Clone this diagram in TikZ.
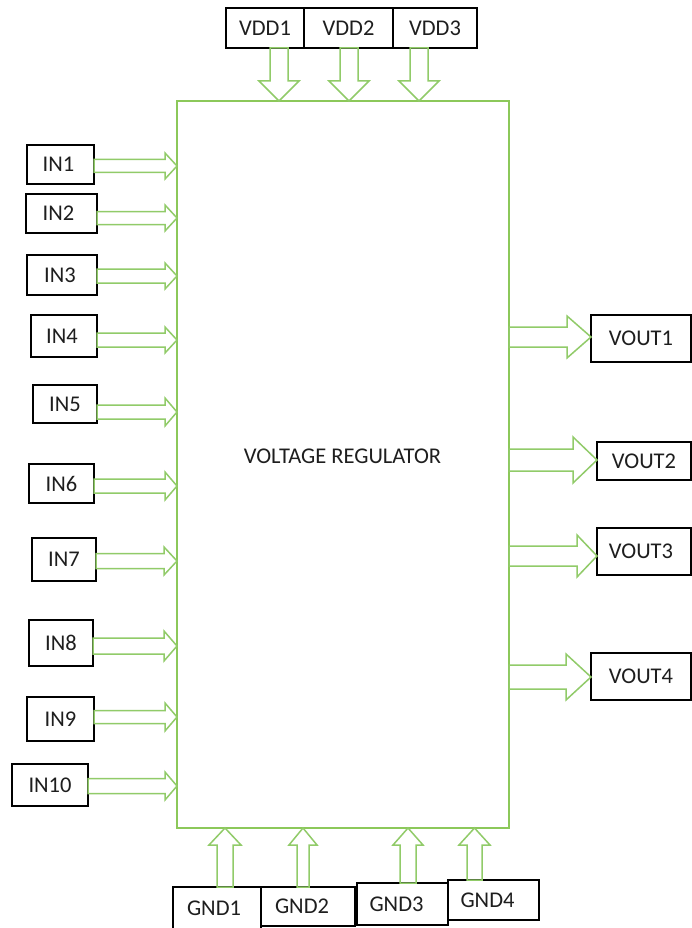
\documentclass[tikz,border=0pt]{standalone}
\usepackage{fontspec}
\setmainfont{Carlito}
\usetikzlibrary{calc}
\definecolor{regline}{RGB}{140,200,90}
\definecolor{arrline}{RGB}{145,203,105}
\definecolor{txt}{RGB}{30,30,30}
\tikzset{
  lbl/.style={draw=black, line width=1.4pt, rectangle, inner sep=0pt, outer sep=0pt,
    font=\fontsize{22.5}{27}\selectfont, text=txt},
  arr/.style={draw=arrline, line width=1.5pt, line join=miter},
}
% right-pointing block arrow: from, tip, shaft half, head half, head length
\newcommand\rarr[5]{\draw[arr] let \p1=(#1), \p2=(#2) in
  (\x1,\y1+#3) -- (\x2-#5,\y1+#3) -- (\x2-#5,\y1+#4) -- (\x2,\y1) -- (\x2-#5,\y1-#4) -- (\x2-#5,\y1-#3) -- (\x1,\y1-#3) -- cycle;}
% down-pointing block arrow
\newcommand\darr[5]{\draw[arr] let \p1=(#1), \p2=(#2) in
  (\x1-#3,\y1) -- (\x1-#3,\y2+#5) -- (\x1-#4,\y2+#5) -- (\x1,\y2) -- (\x1+#4,\y2+#5) -- (\x1+#3,\y2+#5) -- (\x1+#3,\y1) -- cycle;}
% up-pointing block arrow
\newcommand\uarr[5]{\draw[arr] let \p1=(#1), \p2=(#2) in
  (\x1-#3,\y1) -- (\x1-#3,\y2-#5) -- (\x1-#4,\y2-#5) -- (\x1,\y2) -- (\x1+#4,\y2-#5) -- (\x1+#3,\y2-#5) -- (\x1+#3,\y1) -- cycle;}
\begin{document}
\begin{tikzpicture}[x=1pt,y=-1pt]
\useasboundingbox[fill=white] (0,0) rectangle (692,928);
% main block
\node[draw=regline, line width=2pt, rectangle, inner sep=0pt, outer sep=0pt,
      minimum width=332pt, minimum height=727pt] (reg) at (343,464.5) {};
\node[font=\fontsize{22.5}{27}\selectfont, text=txt, inner sep=0pt] (title) at (342.5,456.5) {VOLTAGE REGULATOR};
% supply boxes
\node[lbl, minimum width=78pt, minimum height=40pt] (vdd1) at (265,28) {VDD1};
\node[lbl, minimum width=89pt, minimum height=40pt] (vdd2) at (348.5,28) {VDD2};
\node[lbl, minimum width=84pt, minimum height=40pt] (vdd3) at (435,28) {VDD3};
% input boxes
\node[lbl, minimum width=67pt, minimum height=39pt] (in1) at (60.5,164.5) {IN1\kern4pt};
\node[lbl, minimum width=71pt, minimum height=39pt] (in2) at (61.5,213.5) {IN2\kern6pt};
\node[lbl, minimum width=70pt, minimum height=40pt] (in3) at (62,275) {IN3\kern4pt};
\node[lbl, minimum width=66pt, minimum height=42pt] (in4) at (64,336) {IN4\kern4pt};
\node[lbl, minimum width=64pt, minimum height=38pt] (in5) at (65,404) {IN5};
\node[lbl, minimum width=65pt, minimum height=39pt] (in6) at (61.5,483.5) {IN6};
\node[lbl, minimum width=64pt, minimum height=43pt] (in7) at (64,559.5) {IN7};
\node[lbl, minimum width=64pt, minimum height=46pt] (in8) at (61,643) {IN8};
\node[lbl, minimum width=67pt, minimum height=44pt] (in9) at (60.5,719) {IN9};
\node[lbl, minimum width=76pt, minimum height=42pt] (in10) at (50,785) {IN10};
% output boxes
\node[lbl, minimum width=100pt, minimum height=47pt] (vout1) at (641,338.5) {VOUT1};
\node[lbl, minimum width=94pt, minimum height=38pt] (vout2) at (644,461) {VOUT2};
\node[lbl, minimum width=94pt, minimum height=47pt] (vout3) at (644,551.5) {VOUT3\kern6pt};
\node[lbl, minimum width=100pt, minimum height=47pt] (vout4) at (641,676.5) {VOUT4};
% ground boxes
\node[lbl, minimum width=88pt, minimum height=42pt] (gnd1) at (217,908) {GND1\kern6pt};
\node[lbl, minimum width=94pt, minimum height=39pt] (gnd2) at (308,906.5) {GND2\kern12pt};
\node[lbl, minimum width=91pt, minimum height=42pt] (gnd3) at (402.5,904) {GND3\kern12pt};
\node[lbl, minimum width=91pt, minimum height=40pt] (gnd4) at (493.5,900) {GND4\kern12pt};
% VDD arrows
\darr{vdd1.south -| 279,0}{reg.north -| 279,0}{9pt}{20pt}{20pt}
\darr{vdd2.south -| 349,0}{reg.north -| 349,0}{9pt}{20pt}{20pt}
\darr{vdd3.south -| 419,0}{reg.north -| 419,0}{9pt}{20pt}{20pt}
% IN arrows
\rarr{in1.east |- 0,166}{reg.west |- 0,166}{6.5pt}{13pt}{12pt}
\rarr{in2.east |- 0,218}{reg.west |- 0,218}{6.5pt}{13pt}{12pt}
\rarr{in3.east |- 0,276}{reg.west |- 0,276}{7pt}{13pt}{12pt}
\rarr{in4.east |- 0,340}{reg.west |- 0,340}{7pt}{13pt}{12pt}
\rarr{in5.east |- 0,412}{reg.west |- 0,412}{7pt}{14pt}{12pt}
\rarr{in6.east |- 0,486}{reg.west |- 0,486}{7pt}{14pt}{12pt}
\rarr{in7.east |- 0,561}{reg.west |- 0,561}{7.5pt}{14pt}{13pt}
\rarr{in8.east |- 0,646}{reg.west |- 0,646}{8pt}{15pt}{13pt}
\rarr{in9.east |- 0,717}{reg.west |- 0,717}{6.5pt}{14pt}{12pt}
\rarr{in10.east |- 0,786}{reg.west |- 0,786}{7.5pt}{14pt}{12pt}
% VOUT arrows
\rarr{reg.east |- 0,337}{vout1.west |- 0,337}{10pt}{21pt}{24pt}
\rarr{reg.east |- 0,460}{vout2.west |- 0,460}{11pt}{23pt}{24pt}
\rarr{reg.east |- 0,556}{vout3.west |- 0,556}{10pt}{21pt}{20pt}
\rarr{reg.east |- 0,677}{vout4.west |- 0,677}{12pt}{23pt}{25pt}
% GND arrows
\uarr{gnd1.north -| 225,0}{reg.south -| 225,0}{8pt}{16pt}{17pt}
\uarr{gnd2.north -| 303,0}{reg.south -| 303,0}{6pt}{14pt}{17pt}
\uarr{gnd3.north -| 408,0}{reg.south -| 408,0}{8pt}{15pt}{17pt}
\uarr{gnd4.north -| 474.5,0}{reg.south -| 474.5,0}{7.5pt}{15.5pt}{17pt}
\end{tikzpicture}
\end{document}
